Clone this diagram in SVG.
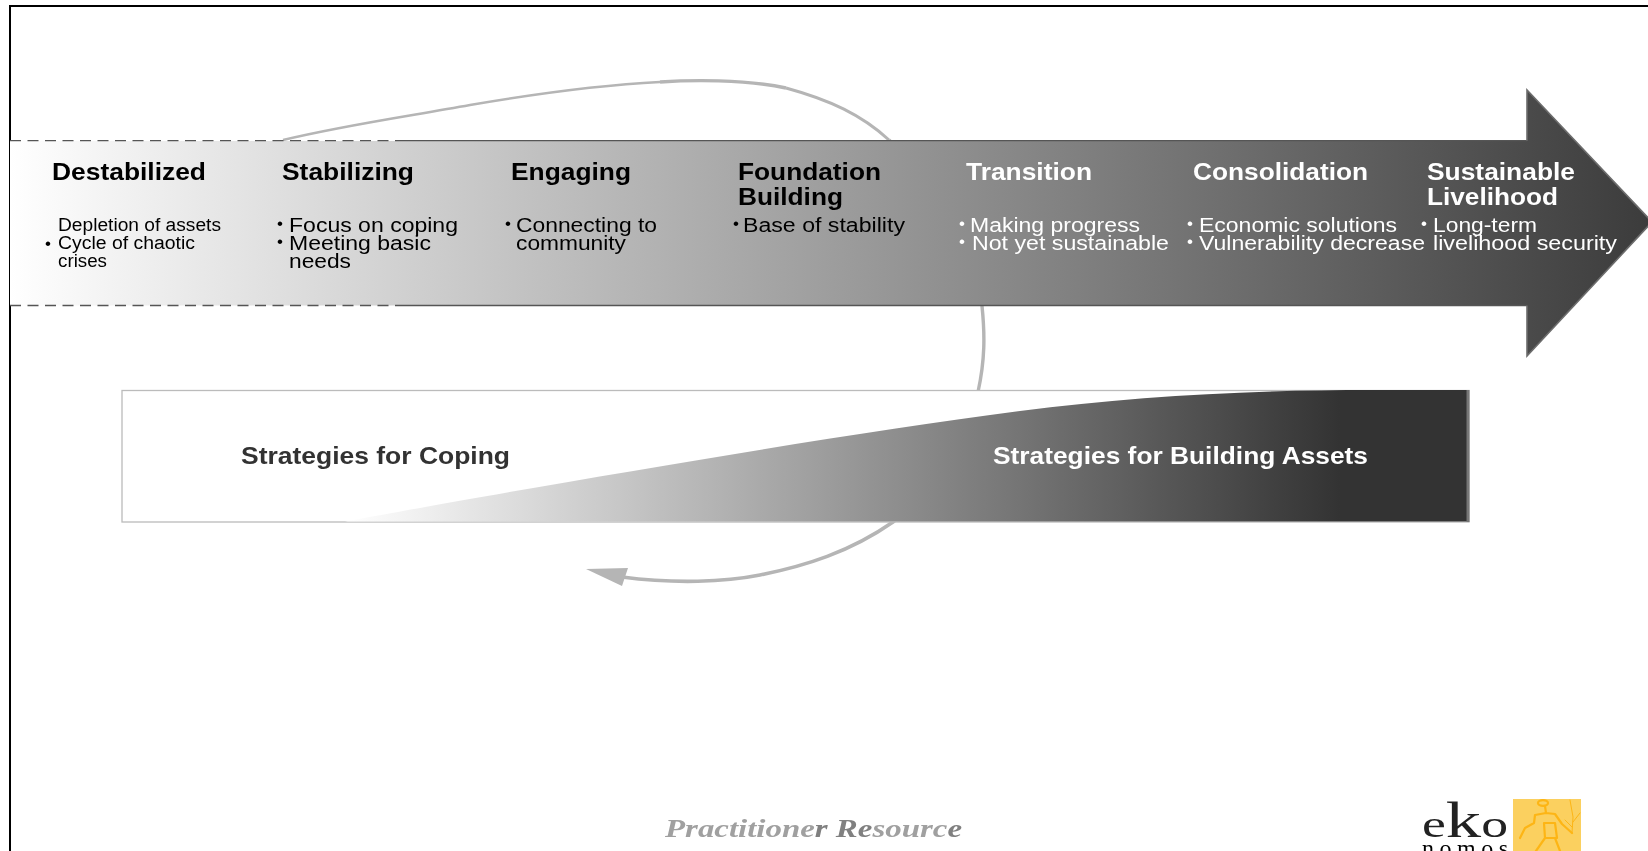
<svg xmlns="http://www.w3.org/2000/svg" width="1648" height="851" viewBox="0 0 1648 851">
<style>
text{font-family:"Liberation Sans",Arial,sans-serif;filter:url(#soft)}
.h{font-size:23px;font-weight:700}
.b{font-size:20px}
.s{font-size:18px}
.k{fill:#000}
.w{fill:#fff}
.d{font-size:17px}
.st{font-size:24px;font-weight:700}
.fig{fill:none;stroke:#fdb515;stroke-width:2.2;stroke-linejoin:round;stroke-linecap:round}
</style>
<defs>
<filter id="soft" x="-5%" y="-20%" width="110%" height="140%"><feGaussianBlur stdDeviation="0.35"/></filter>
<linearGradient id="ga" gradientUnits="userSpaceOnUse" x1="10" y1="0" x2="1648" y2="0"><stop offset="0" stop-color="#fff"/><stop offset="1" stop-color="#3c3c3c"/></linearGradient>
<linearGradient id="gw" gradientUnits="userSpaceOnUse" x1="345" y1="0" x2="1340" y2="0"><stop offset="0" stop-color="#fff"/><stop offset="1" stop-color="#333"/></linearGradient>
</defs>
<rect width="1648" height="851" fill="#fff"/>
<path id="frame" d="M10 851V6H1648" fill="none" stroke="#000" stroke-width="2"/>
<g id="connectors" fill="none" stroke="#b5b5b5">
<path stroke-width="2.4" d="M283 140C345 125 410 116 470 105C540 93 600 85 660 82"/>
<path stroke-width="3.4" d="M660 82C690 80 745 79 786 88"/>
<path stroke-width="3" d="M786 88C830 100 862 115 889 140"/>
<path stroke-width="3.4" d="M889 140C950 200 978 260 982 306C985 335 985 360 978 392"/>
<path stroke-width="3.6" d="M978 392C965 450 930 495 893 522C850 552 805 566 760 575C725 582 675 584 622 577"/>
<path d="M586 569L628 568L622 586Z" fill="#b5b5b5" stroke="none"/>
</g>
<g id="main-arrow">
<path d="M10 141H1527V90L1652 222L1527 356V305.500H10Z" fill="url(#ga)"/>
<path d="M398 140.700H1527M1527 305.500H398" fill="none" stroke="#555" stroke-width="1.300"/>
<path d="M1527 140.700V90L1652 222L1527 356V305.500" fill="none" stroke="#6c6c6c" stroke-width="1.600"/>
<path d="M10 140.700H398M10 305.500H398" fill="none" stroke="#555" stroke-width="1.300" stroke-dasharray="11 6.500"/>
</g>
<g id="strategies">
<rect x="122" y="390.500" width="1347" height="131.500" fill="#fff" stroke="#bbb" stroke-width="1.300"/>
<path d="M345 521.500C490 495 800 440 1020 411C1140 395 1270 389 1400 390H1467V521.500Z" fill="url(#gw)"/>
<path d="M1468 390V522" stroke="#777" stroke-width="3"/>
<text id="coping" class="st" x="241" y="463.500" textLength="269" lengthAdjust="spacingAndGlyphs" fill="#333">Strategies for Coping</text>
<text id="assets" class="st" x="993" y="463.500" textLength="375" lengthAdjust="spacingAndGlyphs" fill="#fff">Strategies for Building Assets</text>
</g>
<g id="destabilized" class="k" transform="translate(0 1)">
<text class="h" x="52" y="179" textLength="154" lengthAdjust="spacingAndGlyphs">Destabilized</text>
<text class="s" x="58" y="230" textLength="163" lengthAdjust="spacingAndGlyphs">Depletion of assets</text>
<text class="d" x="45" y="248">•</text>
<text class="s" x="58" y="248" textLength="137" lengthAdjust="spacingAndGlyphs">Cycle of chaotic</text>
<text class="s" x="58" y="266" textLength="49" lengthAdjust="spacingAndGlyphs">crises</text>
</g>
<g id="stabilizing" class="k" transform="translate(0 1)">
<text class="h" x="282" y="179" textLength="132" lengthAdjust="spacingAndGlyphs">Stabilizing</text>
<text class="d" x="277" y="228">•</text>
<text class="b" x="289" y="231" textLength="169" lengthAdjust="spacingAndGlyphs">Focus on coping</text>
<text class="d" x="277" y="246">•</text>
<text class="b" x="289" y="249" textLength="142" lengthAdjust="spacingAndGlyphs">Meeting basic</text>
<text class="b" x="289" y="267" textLength="62" lengthAdjust="spacingAndGlyphs">needs</text>
</g>
<g id="engaging" class="k" transform="translate(0 1)">
<text class="h" x="511" y="179" textLength="120" lengthAdjust="spacingAndGlyphs">Engaging</text>
<text class="d" x="505" y="228">•</text>
<text class="b" x="516" y="231" textLength="141" lengthAdjust="spacingAndGlyphs">Connecting to</text>
<text class="b" x="516" y="249" textLength="110" lengthAdjust="spacingAndGlyphs">community</text>
</g>
<g id="foundation" class="k" transform="translate(0 1)">
<text class="h" x="738" y="179" textLength="143" lengthAdjust="spacingAndGlyphs">Foundation</text>
<text class="h" x="738" y="204" textLength="105" lengthAdjust="spacingAndGlyphs">Building</text>
<text class="d" x="733" y="228">•</text>
<text class="b" x="743" y="231" textLength="162" lengthAdjust="spacingAndGlyphs">Base of stability</text>
</g>
<g id="transition" class="w" transform="translate(0 1)">
<text class="h" x="966" y="179" textLength="126" lengthAdjust="spacingAndGlyphs">Transition</text>
<text class="d" x="959" y="228">•</text>
<text class="b" x="970" y="231" textLength="170" lengthAdjust="spacingAndGlyphs">Making progress</text>
<text class="d" x="959" y="246">•</text>
<text class="b" x="972" y="249" textLength="197" lengthAdjust="spacingAndGlyphs">Not yet sustainable</text>
</g>
<g id="consolidation" class="w" transform="translate(0 1)">
<text class="h" x="1193" y="179" textLength="175" lengthAdjust="spacingAndGlyphs">Consolidation</text>
<text class="d" x="1187" y="228">•</text>
<text class="b" x="1199" y="231" textLength="198" lengthAdjust="spacingAndGlyphs">Economic solutions</text>
<text class="d" x="1187" y="246">•</text>
<text class="b" x="1199" y="249" textLength="226" lengthAdjust="spacingAndGlyphs">Vulnerability decrease</text>
</g>
<g id="sustainable" class="w" transform="translate(0 1)">
<text class="h" x="1427" y="179" textLength="148" lengthAdjust="spacingAndGlyphs">Sustainable</text>
<text class="h" x="1427" y="204" textLength="131" lengthAdjust="spacingAndGlyphs">Livelihood</text>
<text class="d" x="1421" y="228">•</text>
<text class="b" x="1433" y="231" textLength="104" lengthAdjust="spacingAndGlyphs">Long-term</text>
<text class="b" x="1433" y="249" textLength="184" lengthAdjust="spacingAndGlyphs">livelihood security</text>
</g>
<g id="footer">
<text x="665" y="836.500" textLength="297" lengthAdjust="spacingAndGlyphs" style="font-family:'Liberation Serif',serif;font-style:italic;font-weight:700;font-size:26px" fill="#a0a0a0">Practitione<tspan fill="#808080">r</tspan> <tspan fill="#808080">Re</tspan>sourc<tspan fill="#808080">e</tspan></text>
</g>
<g id="logo">
<rect x="1513" y="799" width="68" height="52" fill="#fbd05f"/>
<ellipse cx="1543" cy="803" rx="5" ry="2.800" class="fig"/>
<path class="fig" d="M1545 806L1546 813L1535 815L1534 823L1525 828L1520 838M1546 813L1555 814L1562 824L1572 833M1544 823H1555L1557 838H1545ZM1545 838L1536 851M1555 838L1560 851"/>
<path class="fig" style="stroke-width:1" d="M1570 800L1573 817L1572 833M1565 820L1572 827M1580 813L1573 822"/>
<text x="1422" y="837" textLength="86" lengthAdjust="spacingAndGlyphs" style="font-family:'Liberation Serif',serif;font-size:38px" fill="#222">e<tspan style="font-size:50px">k</tspan>o</text>
<text x="1422" y="856" textLength="86" style="font-family:'Liberation Serif',serif;font-size:24px" fill="#000">nomos</text>
</g>
</svg>
